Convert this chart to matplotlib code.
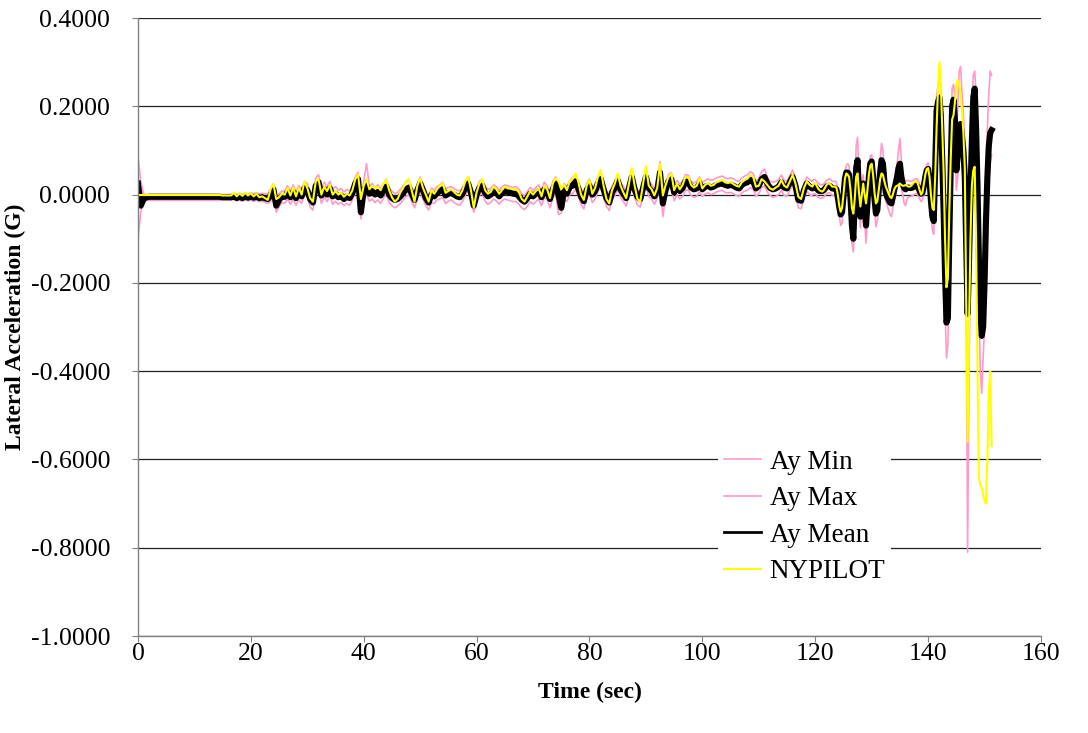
import numpy as np
import matplotlib
matplotlib.use("Agg")
import matplotlib.pyplot as plt
from matplotlib.ticker import FuncFormatter

plt.rcParams['font.family'] = ['Liberation Serif', 'DejaVu Serif']
plt.rcParams['axes.unicode_minus'] = False

# values in milli-G
# segment A: 0 .. 119.5 s, every 0.5 s
ny_a = [
    -1, -1, -1, -1, -1, -1, -1, -1, -1, -1,
    -1, -1, -1, -1, -1, -1, -1, -1, -1, -1,
    -1, -1, -1, -1, -1, -1, -1, -1, -1, -1,
    -2, -2, -2, -2, 4, -4, 3, -3, 4, -2,
    3, -4, 2, -6, -4, -8, -12, 12, 24, -10,
    -6, 2, 0, 15, -2, 16, -4, 15, 0, 30,
    15, -8, -16, 30, 35, 0, 18, 8, 22, 0,
    8, 0, 4, -5, 2, -2, 10, 35, 45, -10,
    20, 35, 12, 20, 14, 18, 10, 25, 33, 10,
    -6, -16, -10, 5, 15, 30, 35, 10, -16, 20,
    37, 15, 0, -16, 10, 2, 12, 20, 26, 4,
    8, 12, 6, 0, -2, 10, 30, 40, 10, -30,
    5, 25, 35, 10, 2, 6, 18, 12, 2, 10,
    18, 14, 14, 12, 12, 5, -10, -16, -4, 8,
    0, 8, 14, -4, 20, 12, -8, 25, 37, 30,
    12, 22, 10, 30, 35, 48, 30, 0, -12, 20,
    33, 2, 15, 40, 56, 20, -10, -20, 10, 25,
    48, 20, 5, -8, 25, 60, 20, -10, -16, 25,
    64, 20, 12, -2, 15, 70, -2, 22, 40, 48,
    10, 25, 12, 22, 40, 40, 22, 16, 20, 37,
    14, 22, 26, 20, 22, 28, 30, 33, 28, 26,
    28, 24, 20, 18, 28, 33, 36, 44, 40, 18,
    20, 35, 30, 22, 14, 11, 16, 20, 33, 20,
    16, 30, 45, 25, -5, -10, 15, 30, 22, 18,
]
mean_a = [
    25, -25, -10, -6, -5, -5, -5, -5, -5, -5,
    -5, -5, -5, -5, -5, -5, -5, -5, -5, -5,
    -5, -5, -5, -5, -5, -5, -5, -5, -5, -5,
    -6, -6, -6, -6, -4, -8, -4, -8, -4, -7,
    -4, -7, -4, -8, -6, -8, -10, -2, 12, -25,
    -12, -4, -5, 5, -6, 6, -8, 4, -4, 15,
    10, -10, -18, 20, 28, -2, 12, 0, 14, -4,
    2, -6, -2, -10, -4, -8, 4, 25, 35, -40,
    10, 20, 2, 8, 0, 6, -2, 10, 18, 0,
    -8, -12, -10, -4, 4, 12, 16, 2, -12, 10,
    25, 10, -8, -18, 0, -4, 4, 8, 12, -2,
    2, 4, 0, -4, -6, 2, 15, 25, 5, -25,
    0, 15, 20, 4, -4, 0, 8, 4, -4, 4,
    8, 6, 4, 2, 2, -4, -12, -16, -8, 2,
    -4, 2, 8, -6, 12, 6, -10, 12, 25, 0,
    -30, 10, 2, 18, 20, 30, 15, -4, -15, 10,
    20, 0, 8, 25, 35, 12, -8, -18, 5, 15,
    32, 12, 2, -8, 15, 40, 12, -5, -10, 15,
    40, 15, 8, -4, 10, 50, -20, 12, 30, 35,
    5, 18, 8, 15, 30, 28, 16, 12, 14, 25,
    12, 18, 20, 16, 18, 22, 24, 26, 22, 20,
    22, 20, 16, 14, 22, 26, 28, 34, 30, 14,
    20, 35, 40, 25, 15, 12, 14, 18, 28, 16,
    14, 28, 40, 20, -12, -14, 10, 25, 18, 14,
]
min_a = [
    -100, -40, -16, -13, -13, -13, -13, -13, -13, -13,
    -13, -13, -13, -13, -13, -13, -13, -13, -13, -13,
    -13, -13, -13, -13, -13, -13, -13, -13, -13, -13,
    -12, -12, -12, -13, -10, -14, -12, -15, -11, -14,
    -12, -16, -12, -16, -15, -17, -20, -15, -5, -40,
    -28, -18, -20, -10, -22, -10, -24, -12, -20, 0,
    -5, -28, -35, 2, 10, -20, -5, -16, -2, -22,
    -15, -22, -18, -25, -20, -24, -12, 5, 15, -55,
    -10, 0, -15, -10, -18, -12, -20, -8, 0, -18,
    -25, -30, -26, -20, -12, -4, 0, -15, -30, -8,
    5, -10, -25, -35, -18, -20, -12, -10, -6, -20,
    -15, -12, -18, -22, -24, -15, -2, 8, -12, -40,
    -18, -2, 5, -15, -22, -18, -10, -14, -22, -14,
    -10, -12, -14, -16, -16, -22, -30, -34, -26, -16,
    -22, -16, -10, -25, -6, -12, -30, -8, 5, -45,
    -42, -10, -16, 0, 2, 12, -4, -22, -32, -8,
    2, -18, -10, 8, 15, -6, -26, -36, -12, -2,
    12, -6, -16, -26, -2, 20, -6, -24, -28, -4,
    20, -4, -10, -22, -8, 30, -50, -6, 12, 16,
    -14, 0, -10, -4, 10, 10, -2, -6, -4, 6,
    -4, 2, 4, 0, 2, 6, 8, 10, 5, 4,
    5, 2, -2, -4, 4, 8, 10, 16, 12, -4,
    2, 16, 20, 6, -2, -6, -4, 0, 10, -2,
    -4, 10, 22, 2, -30, -32, -8, 8, 0, -4,
]
max_a = [
    85, 30, 2, 0, 0, 0, 0, 0, 0, 0,
    0, 0, 0, 0, 0, 0, 0, 0, 0, 0,
    0, 0, 0, 0, 0, 0, 0, 0, 0, 0,
    0, 0, 0, 1, 3, -1, 3, 0, 4, 1,
    4, 2, 4, 1, 3, 2, 2, 12, 25, -8,
    2, 8, 8, 20, 8, 22, 6, 20, 10, 30,
    25, 5, -4, 38, 45, 15, 28, 18, 30, 12,
    18, 10, 14, 6, 12, 8, 20, 40, 50, -20,
    30, 70, 20, 25, 15, 22, 14, 25, 35, 15,
    8, 2, 5, 12, 20, 28, 32, 18, 2, 25,
    40, 25, 10, -4, 15, 10, 18, 22, 28, 14,
    16, 18, 14, 10, 8, 16, 28, 40, 20, -10,
    15, 30, 35, 20, 12, 14, 22, 18, 10, 18,
    22, 20, 18, 16, 18, 12, 2, -2, 8, 16,
    10, 16, 22, 8, 28, 20, 4, 30, 40, 15,
    -10, 25, 18, 32, 38, 45, 30, 12, 2, 25,
    35, 15, 25, 40, 50, 28, 8, -2, 20, 30,
    45, 28, 18, 8, 30, 55, 28, 10, 6, 30,
    58, 30, 24, 12, 28, 75, 0, 28, 45, 50,
    22, 32, 24, 30, 45, 44, 30, 26, 30, 40,
    28, 32, 36, 32, 34, 38, 40, 42, 38, 36,
    38, 36, 32, 30, 38, 42, 45, 52, 48, 30,
    36, 52, 58, 40, 30, 28, 30, 34, 44, 32,
    30, 44, 56, 36, 2, 0, 26, 40, 34, 30,
]

# segment B: 119.5 .. 151.25 s, every 0.25 s
ny_b = [
    20, 24, 26, 20,  14, 10, 8, 7,  10, 16, 22, 25,  25, 22, 18, 18,
    18, 16, 0, -25,  -39, -30, 0, 35,  48, 45, 40, 10,  -30, -43, -10, 40,
    48, 5, -27, 0,  25, 0, -20, 10,  45, 65, 70, 45,  5, -20, -15, 10,
    35, 48, 45, 30,  18, 10, 2, -5,  -8, 0, 12, 18,  20, 22, 25, 22,
    20, 20, 22, 20,  18, 18, 20, 24,  28, 30, 30, 22,  10, 0, 5, 25,
    45, 58, 60, 40,  0, -30, -35, 40,  150, 240, 300, 250,  150, 50, -100, -210,
    -190, -40, 80, 170,  180, 210, 250, 260,  250, 225, 190, 140,  60, -250, -560, -300,
    -100, 20, 55, 63,  -100, -400, -640, -660,  -665, -680, -695, -700,  -600, -450, -400, -570,
]
mean_b = [
    16, 18, 18, 14,  10, 8, 8, 8,  10, 14, 18, 20,  20, 18, 14, 14,
    14, 12, -6, -28,  -45, -40, -5, 35,  50, 50, 45, -10,  -70, -100, -20, 60,
    78, 0, -50, 5,  25, -30, -70, -20,  40, 70, 75, 40,  -10, -43, -35, 10,
    50, 78, 70, 30,  5, -5, -12, -18,  -20, -5, 12, 25,  40, 60, 70, 40,
    25, 15, 12, 15,  16, 15, 15, 16,  18, 20, 20, 16,  8, 2, 5, 20,
    40, 55, 58, 35,  -15, -50, -60, 60,  190, 210, 220, 180,  80, -40, -180, -290,
    -280, -100, 60, 200,  215, 170, 55, 90,  130, 160, 130, 100,  40, -120, -270, -150,
    0, 120, 220, 240,  150, 20, -150, -260,  -320, -300, -200, -60,  40, 110, 140, 146,
]
min_b = [
    0, 2, 2, -2,  -6, -8, -8, -8,  -6, -2, 2, 4,  4, 2, -2, -2,
    -4, -6, -24, -48,  -70, -65, -25, 15,  30, 30, 25, -40,  -110, -130, -50, 30,
    50, -30, -75, -20,  0, -60, -110, -50,  15, 45, 50, 15,  -35, -73, -60, -15,
    25, 50, 45, 5,  -15, -25, -35, -45,  -50, -30, -12, 0,  15, 30, 40, 15,
    0, -20, -25, -10,  -5, -5, -4, -2,  0, 2, 2, -2,  -10, -16, -12, 0,
    20, 35, 38, 10,  -40, -80, -90, 20,  140, 170, 180, 130,  20, -100, -260, -370,
    -340, -180, 0, 140,  160, 120, 10, 40,  80, 110, 80, 40,  -40, -250, -810, -400,
    -150, 40, 150, 180,  60, -80, -250, -400,  -450, -370, -300, -160,  -50, 30, 70, 90,
]
max_b = [
    32, 34, 34, 30,  26, 24, 22, 22,  24, 28, 32, 34,  36, 34, 30, 30,
    30, 28, 10, -12,  -28, -20, 15, 55,  65, 70, 65, 15,  -40, -70, 10, 110,
    130, 30, -25, 30,  45, -5, -40, 10,  65, 88, 90, 60,  15, -20, -10, 35,
    80, 116, 100, 55,  25, 15, 8, 2,  0, 15, 30, 45,  70, 100, 127, 80,
    50, 35, 30, 32,  32, 30, 30, 32,  34, 36, 36, 32,  24, 18, 22, 38,
    55, 68, 72, 55,  10, -25, -35, 100,  225, 245, 260, 250,  170, 40, -100, -200,
    -180, -30, 110, 240,  250, 220, 130, 200,  280, 290, 230, 180,  120, -20, -150, -50,
    100, 200, 270, 280,  230, 120, -50, -150,  -230, -200, -100, 40,  150, 230, 280, 270,
]

labels = ['Ay Min', 'Ay Max', 'Ay Mean', 'NYPILOT']
colors = ['#FF99CC', '#FF99CC', '#000000', '#FFFF00']


def series(a, b):
    t = np.concatenate([0.5 * np.arange(len(a)), 119.5 + 0.25 * np.arange(len(b))])
    v = np.concatenate([a, b]) / 1000.0
    return t, v


data = [series(min_a, min_b), series(max_a, max_b),
        series(mean_a, mean_b), series(ny_a, ny_b)]
widths = [1.2, 1.2, 4.4, 1.5]

fig = plt.figure(figsize=(10.88, 7.33), dpi=100)
ax = fig.add_axes([0.1268, 0.1323, 0.8300, 0.8431])

for (t, v), lab, c, w in zip(data, labels, colors, widths):
    ax.plot(t, v, color=c, lw=w, label=lab)

ax.set_xlim(0, 160)
ax.set_ylim(-1.0, 0.4)
ax.set_xticks(np.arange(0, 161, 20))
ax.set_yticks(np.arange(-1.0, 0.41, 0.2))
ax.yaxis.set_major_formatter(FuncFormatter(lambda v, p: f"{round(v, 4) + 0.0:.4f}"))
ax.yaxis.grid(True, color='#222222', lw=0.9)
ax.set_axisbelow(True)
for s in ['top', 'right']:
    ax.spines[s].set_visible(False)
for s in ['left', 'bottom']:
    ax.spines[s].set_color('#808080')
    ax.spines[s].set_linewidth(1.0)
ax.tick_params(direction='out', length=4, color='#808080', labelsize=18.5)
ax.tick_params(axis='y', pad=16)
ax.tick_params(axis='x', pad=1)

ax.set_xlabel('Time (sec)', fontsize=17, fontweight='bold', labelpad=12)
ax.set_ylabel('Lateral Acceleration (G)', fontsize=17, fontweight='bold', labelpad=3)

leg = ax.legend(loc='upper left', bbox_to_anchor=(0.6425, 0.31), borderaxespad=0,
                frameon=True, fancybox=False, framealpha=1, edgecolor='none',
                fontsize=19.5, handlelength=1.4, handletextpad=0.3, labelspacing=0.42,
                borderpad=0.2)
for h, w in zip(leg.legend_handles, [1.2, 1.2, 2.0, 1.5]):
    h.set_linewidth(w)

fig.savefig('out.png', dpi=100)
